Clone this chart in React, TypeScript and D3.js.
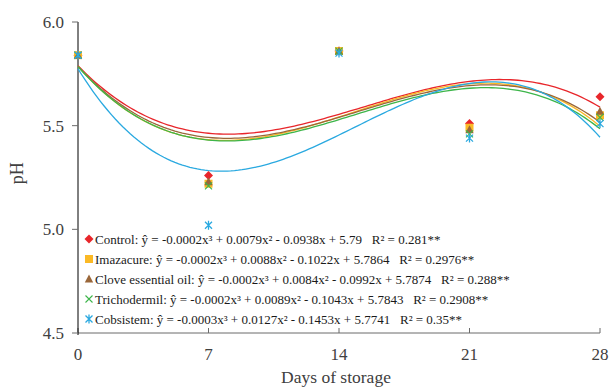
import React from 'react';
import * as d3 from 'd3';

const days = [0, 7, 14, 21, 28];
const control = [5.84, 5.26, 5.86, 5.51, 5.64];
const imazacure = [5.84, 5.22, 5.86, 5.49, 5.55];
const clove = [5.84, 5.23, 5.86, 5.48, 5.57];
const trichodermil = [5.84, 5.21, 5.86, 5.46, 5.54];
const cobsistem = [5.84, 5.02, 5.85, 5.44, 5.51];
const yTicks = [4.5, 5.0, 5.5, 6.0];

const legendLabels = [
  'Control: ŷ = -0.0002x³ + 0.0079x² - 0.0938x + 5.79   R² = 0.281**',
  'Imazacure: ŷ = -0.0002x³ + 0.0088x² - 0.1022x + 5.7864   R² = 0.2976**',
  'Clove essential oil: ŷ = -0.0002x³ + 0.0084x² - 0.0992x + 5.7874   R² = 0.288**',
  'Trichodermil: ŷ = -0.0002x³ + 0.0089x² - 0.1043x + 5.7843   R² = 0.2908**',
  'Cobsistem: ŷ = -0.0003x³ + 0.0127x² - 0.1453x + 5.7741   R² = 0.35**',
];

const series = [
  { name: 'Control', values: control, color: '#e8262b', marker: 'diamond' },
  { name: 'Imazacure', values: imazacure, color: '#fbb925', marker: 'square' },
  { name: 'Clove essential oil', values: clove, color: '#9a673a', marker: 'triangle' },
  { name: 'Trichodermil', values: trichodermil, color: '#3db54a', marker: 'cross' },
  { name: 'Cobsistem', values: cobsistem, color: '#2aa9e0', marker: 'asterisk' },
];

// least squares cubic trendline (like the spreadsheet trendline)
function cubicFit(xs: number[], ys: number[]) {
  const n = 4;
  const A: number[][] = [];
  for (let i = 0; i < n; i++) {
    A.push([]);
    for (let j = 0; j < n; j++) A[i].push(d3.sum(xs, (x) => Math.pow(x, i + j)));
    A[i].push(d3.sum(xs, (x, k) => Math.pow(x, i) * ys[k]));
  }
  for (let c = 0; c < n; c++) {
    let p = c;
    for (let r = c + 1; r < n; r++) if (Math.abs(A[r][c]) > Math.abs(A[p][c])) p = r;
    [A[c], A[p]] = [A[p], A[c]];
    for (let r = 0; r < n; r++) {
      if (r === c) continue;
      const f = A[r][c] / A[c][c];
      for (let k = c; k <= n; k++) A[r][k] -= f * A[c][k];
    }
  }
  const coef = A.map((row, i) => row[n] / row[i]);
  return (x: number) => coef[0] + coef[1] * x + coef[2] * x * x + coef[3] * x * x * x;
}

const Marker = ({ type, x, y, color }: { type: string; x: number; y: number; color: string }) => {
  if (type === 'diamond') {
    return <path d={`M${x},${y - 4.5}L${x + 4.5},${y}L${x},${y + 4.5}L${x - 4.5},${y}Z`} fill={color} />;
  }
  if (type === 'square') {
    return <rect x={x - 4} y={y - 4} width={8} height={8} fill={color} />;
  }
  if (type === 'triangle') {
    return <path d={`M${x},${y - 4.5}L${x + 4.2},${y + 3.5}L${x - 4.2},${y + 3.5}Z`} fill={color} />;
  }
  if (type === 'cross') {
    return (
      <path d={`M${x - 3.5},${y - 3.5}L${x + 3.5},${y + 3.5}M${x - 3.5},${y + 3.5}L${x + 3.5},${y - 3.5}`}
        stroke={color} strokeWidth={1.1} fill="none" />
    );
  }
  return (
    <path
      d={`M${x - 3.5},${y - 3.5}L${x + 3.5},${y + 3.5}M${x - 3.5},${y + 3.5}L${x + 3.5},${y - 3.5}M${x},${y - 4.5}L${x},${y + 4.5}`}
      stroke={color} strokeWidth={1.3} fill="none" />
  );
};

export default function App() {
  const width = 609;
  const height = 389;
  const x = d3.scaleLinear().domain([0, 28]).range([78, 600]);
  const y = d3.scaleLinear().domain([4.5, 6.0]).range([333, 22]);
  const font = '"Liberation Serif", "Times New Roman", serif';
  const samples = d3.range(0, 28.001, 0.2);

  return (
    <svg width={width} height={height} style={{ position: 'absolute', left: 0, top: 0, background: '#fff' }}>
      {/* axes */}
      <line x1={x(0)} x2={x(28)} y1={y(4.5)} y2={y(4.5)} stroke="#6b6b6b" strokeWidth={1} />
      {days.map((d) => (
        <line key={d} x1={x(d)} x2={x(d)} y1={y(4.5)} y2={y(4.5) - 5} stroke="#6b6b6b" strokeWidth={1} />
      ))}
      <line x1={x(0)} x2={x(0)} y1={y(6.0)} y2={y(4.5) + 2} stroke="#000" strokeWidth={1} />
      {yTicks.map((t) => (
        <g key={t}>
          <line x1={x(0) - 6} x2={x(0)} y1={y(t)} y2={y(t)} stroke="#6b6b6b" strokeWidth={1} />
          <text x={x(0) - 14} y={y(t)} dy="0.35em" textAnchor="end" fontFamily={font} fontSize={17} fill="#404040">
            {d3.format('.1f')(t)}
          </text>
        </g>
      ))}
      {days.map((d) => (
        <text key={d} x={x(d)} y={y(4.5) + 27} textAnchor="middle" fontFamily={font} fontSize={17} fill="#404040">
          {d}
        </text>
      ))}
      <text x={336} y={383} textAnchor="middle" fontFamily={font} fontSize={17.5} fill="#404040">
        Days of storage
      </text>
      <text transform={`translate(23,${y(5.27)}) rotate(-90)`} textAnchor="middle" fontFamily={font} fontSize={18} fill="#404040">
        pH
      </text>

      {/* trendlines */}
      {series.map((s) => {
        const f = cubicFit(days, s.values);
        const line = d3.line<number>().x((d) => x(d)).y((d) => y(f(d)));
        return <path key={s.name} d={line(samples) || ''} fill="none" stroke={s.color} strokeWidth={1.3} />;
      })}

      {/* points */}
      {series.map((s) => (
        <g key={s.name}>
          {s.values.map((v, i) => (
            <Marker key={i} type={s.marker} x={x(days[i])} y={y(v)} color={s.color} />
          ))}
        </g>
      ))}

      {/* legend */}
      {series.map((s, i) => (
        <g key={s.name} transform={`translate(89,${239 + i * 20})`}>
          <Marker type={s.marker} x={0} y={0} color={s.color} />
          <text x={6} y={0} dy="0.35em" fontFamily={font} fontSize={13} fill="#1a1a1a" style={{ whiteSpace: 'pre' }}>
            {legendLabels[i]}
          </text>
        </g>
      ))}
    </svg>
  );
}
